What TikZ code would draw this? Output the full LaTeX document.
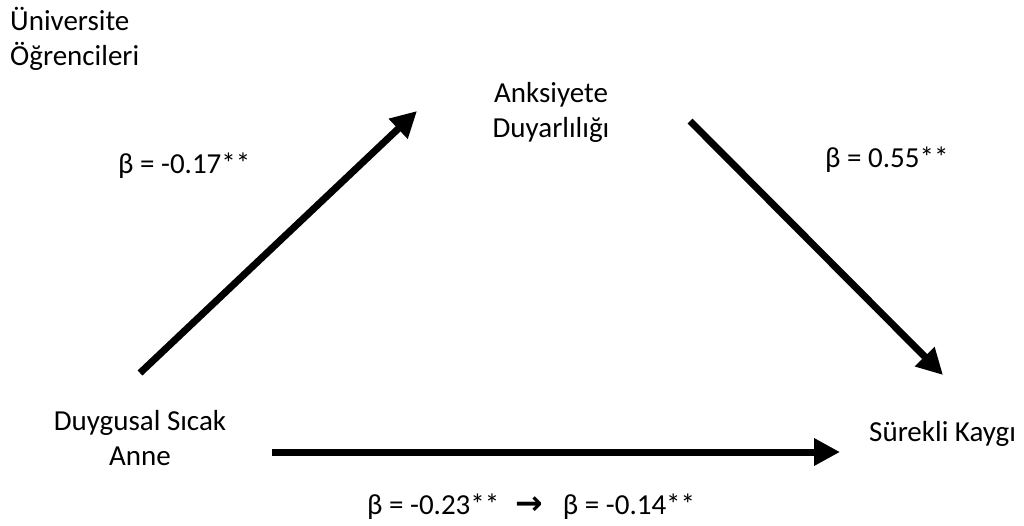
\documentclass[tikz,border=0pt]{standalone}
\usepackage{fontspec}
\setmainfont{Carlito}
\newfontfamily\symfont{DejaVu Sans}
\usetikzlibrary{arrows.meta}
\tikzset{
  lbl/.style={font=\fontsize{29}{35}\selectfont, inner sep=0pt, anchor=base west},
  lblc/.style={font=\fontsize{29}{35}\selectfont, inner sep=0pt, align=center},
  conn/.style={line width=7pt, -{Triangle[length=26pt,width=26pt]}}
}
\begin{document}
\begin{tikzpicture}[x=1pt,y=-1pt]
\useasboundingbox (0,0) rectangle (1024,525);
\node[lbl, align=left, anchor=north west] (grp) at (10,7) {Üniversite\\Öğrencileri};
\node[lblc, anchor=north] (ad) at (551,82) {Anksiyete\\Duyarlılığı};
\node[lblc, anchor=north] (dsa) at (140,410) {Duygusal Sıcak\\Anne};
\node[lbl] (sk) at (869,441) {Sürekli Kaygı};
\node[lbl] (b1) at (118,173) {β = -0.17**};
\node[lbl] (b2) at (825,167) {β = 0.55**};
\node[lbl] (b3) at (367,514) {β = -0.23**\hspace{16pt}{\symfont\bfseries\fontsize{33}{35}\selectfont →}\hspace{20pt}β = -0.14**};
\coordinate (a1s) at (140,373);
\coordinate (a1e) at (417,111);
\coordinate (a2s) at (690,121);
\coordinate (a2e) at (943,375);
\coordinate (a3s) at (272,452);
\coordinate (a3e) at (840,452);
\draw[conn] (a1s) -- (a1e);
\draw[conn] (a2s) -- (a2e);
\draw[conn] (a3s) -- (a3e);
\end{tikzpicture}
\end{document}
